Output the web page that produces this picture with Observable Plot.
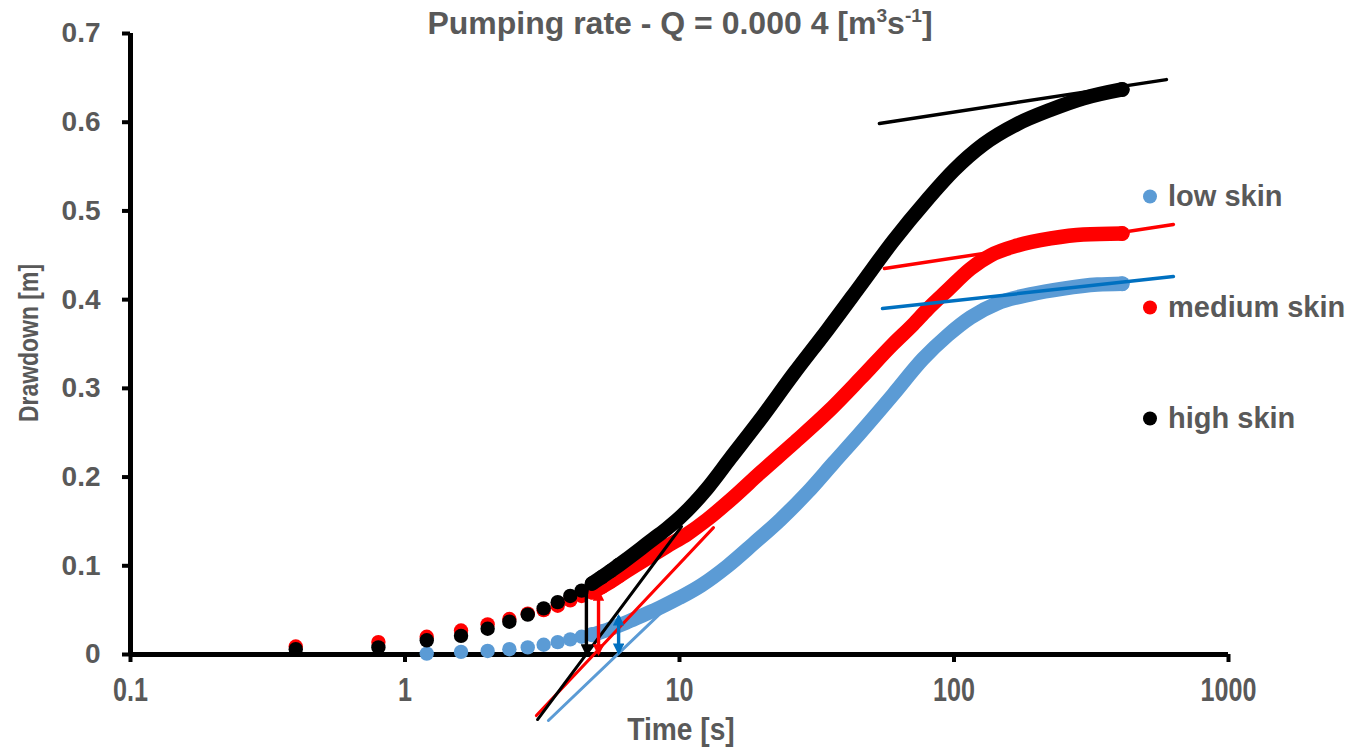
<!DOCTYPE html>
<html><head><meta charset="utf-8">
<script src="https://cdn.jsdelivr.net/npm/d3@7"></script>
<script src="https://cdn.jsdelivr.net/npm/@observablehq/plot@0.6"></script>
<style>
html,body{margin:0;background:#fff;overflow:hidden;}
#wrap{position:relative;width:1360px;height:749px;font-family:"Liberation Sans",Arial,sans-serif;}
#title{position:absolute;left:0;width:1360px;top:6px;text-align:center;font-weight:bold;font-size:32px;color:#595959;white-space:nowrap;line-height:1.1}
#title sup{font-size:0.6em;vertical-align:0.6em;line-height:0}
.leg{position:absolute;left:1143px;font-weight:bold;font-size:29px;color:#595959;white-space:nowrap;line-height:1;transform:translateY(-50%)}
.leg i{display:inline-block;width:14px;height:14px;border-radius:50%;margin-right:11px;vertical-align:2px}
g[aria-label="x-axis tick label"], g[aria-label="y-axis tick label"]{fill:#595959;font-weight:bold;font-family:"Liberation Sans",Arial,sans-serif;}
g[aria-label="y-axis tick label"]{font-size:28px;}
g[aria-label="x-axis tick label"]{font-size:34px;}
.axtitle{fill:#595959;font-weight:bold;font-family:"Liberation Sans",Arial,sans-serif;}
</style></head><body><div id="wrap"></div>
<script>
// ---- data ----
const xTicks = [0.1, 1, 10, 100, 1000];
const yTicks = [0, 0.1, 0.2, 0.3, 0.4, 0.5, 0.6, 0.7];
const seriesNames = ["low skin", "medium skin", "high skin"];
const seriesColors = ["#5B9BD5", "#FF0000", "#000000"];

// individually visible early readings (every 0.4 s)
const earlyTime   = [0.4, 0.8, 1.2, 1.6, 2.0, 2.4, 2.8, 3.2, 3.6, 4.0, 4.4, 4.8, 5.2, 5.6, 6.0];
const earlyLow    = [null, null, 0.001, 0.003, 0.004, 0.006, 0.008, 0.011, 0.014, 0.017, 0.020, 0.023, 0.026, 0.029, 0.033];
const earlyMedium = [0.009, 0.014, 0.020, 0.027, 0.034, 0.040, 0.046, 0.050, 0.055, 0.061, 0.066, 0.071, 0.076, 0.082, 0.088];
const earlyHigh   = [0.006, 0.008, 0.016, 0.021, 0.029, 0.037, 0.045, 0.052, 0.059, 0.066, 0.072, 0.080, 0.087, 0.094, 0.101];

// dense readings (overlapping markers) read along each band
const lowBandTime = [4.8, 5.6, 6.4, 7.2, 8.5, 10, 12, 15, 18.6, 23.3, 29.3, 36.4, 45.6, 60, 77, 95, 115, 144, 190, 250, 333, 410];
const lowBand     = [0.022, 0.029, 0.036, 0.043, 0.053, 0.064, 0.078, 0.100, 0.125, 0.152, 0.183, 0.216, 0.250, 0.293, 0.333, 0.360, 0.380, 0.396, 0.406, 0.4125, 0.417, 0.418];
const mediumBandTime = [4.8, 5.6, 6.5, 7.6, 9, 10.7, 12.6, 15.7, 19.7, 26, 34.6, 45.6, 60, 71, 80, 95, 115, 136, 170, 225, 296, 410];
const mediumBand     = [0.070, 0.082, 0.095, 0.108, 0.122, 0.136, 0.152, 0.177, 0.205, 0.238, 0.273, 0.311, 0.350, 0.372, 0.389, 0.411, 0.435, 0.450, 0.461, 0.469, 0.4735, 0.4746];
const highBandTime = [4.8, 5.6, 6.4, 7.2, 8, 9, 10, 12.6, 15.3, 19.7, 26, 34.6, 45.6, 60, 80, 100, 128, 170, 225, 296, 410];
const highBand     = [0.080, 0.094, 0.107, 0.119, 0.130, 0.142, 0.154, 0.187, 0.221, 0.265, 0.316, 0.366, 0.416, 0.466, 0.513, 0.546, 0.575, 0.598, 0.614, 0.627, 0.637];

// straight-line fits (early slope and late slope), [start, end]
const lowEarlyFitTime = [3.33, 10.0],   lowEarlyFit = [-0.0744, 0.067];
const mediumEarlyFitTime = [3.01, 13.3], mediumEarlyFit = [-0.0688, 0.143];
const highEarlyFitTime = [3.04, 10.17],  highEarlyFit = [-0.0733, 0.1443];
const lowLateFitTime = [54.9, 630],      lowLateFit = [0.390, 0.426];
const mediumLateFitTime = [55.8, 630],   mediumLateFit = [0.435, 0.4848];
const highLateFitTime = [53.5, 594],     highLateFit = [0.5986, 0.648];

// skin-loss arrows at the x-intercepts of the early fits
const arrowTime   = [6.0, 5.07, 4.58];
const arrowTop    = [0.043, 0.071, 0.069];
const arrowBottom = [0.002, 0.001, 0.001];
const arrowColors = ["#0070C0", "#FF0000", "#000000"];
const arrowDouble = [true, true, false];

// ---- build ----
const pairs = (ts, vs) => ts.map((t, i) => ({t, s: vs[i]})).filter(d => d.s != null);
const early = [earlyLow, earlyMedium, earlyHigh].map(v => pairs(earlyTime, v));
const bands = [pairs(lowBandTime, lowBand), pairs(mediumBandTime, mediumBand), pairs(highBandTime, highBand)];
const earlyFits = [pairs(lowEarlyFitTime, lowEarlyFit), pairs(mediumEarlyFitTime, mediumEarlyFit), pairs(highEarlyFitTime, highEarlyFit)];
const lateFits = [pairs(lowLateFitTime, lowLateFit), pairs(mediumLateFitTime, mediumLateFit), pairs(highLateFitTime, highLateFit)];
const earlyFitColors = ["#5B9BD5", "#FF0000", "#000000"];
const lateFitColors = ["#0070C0", "#FF0000", "#000000"];

const marks = [
  Plot.ruleY([0], {stroke: "#000", strokeWidth: 5}),
  Plot.ruleX([0.1], {stroke: "#000", strokeWidth: 5}),
  Plot.axisX({ticks: xTicks, tickFormat: d => String(d), tickSize: 8, tickPadding: 14, strokeWidth: 4, stroke: "#000", label: null}),
  Plot.axisY({ticks: yTicks, tickFormat: d => d === 0 ? "0" : d.toFixed(1), tickSize: 8, tickPadding: 22, strokeWidth: 4, stroke: "#000", label: null})
];
[0, 1, 2].forEach(i => {
  marks.push(Plot.line(bands[i], {x: "t", y: "s", stroke: seriesColors[i], strokeWidth: 14.5, curve: "monotone-x", strokeLinecap: "round", strokeLinejoin: "round"}));
  marks.push(Plot.dot(early[i], {x: "t", y: "s", r: 7.2, fill: seriesColors[i]}));
  marks.push(Plot.dot(bands[i].slice(-1), {x: "t", y: "s", r: 7.5, fill: seriesColors[i]}));
});
[0, 1, 2].forEach(i => {
  marks.push(Plot.line(earlyFits[i], {x: "t", y: "s", stroke: earlyFitColors[i], strokeWidth: 3}));
  marks.push(Plot.line(lateFits[i], {x: "t", y: "s", stroke: lateFitColors[i], strokeWidth: 3.5}));
});
[0, 1, 2].forEach(i => {
  marks.push(Plot.link([i], {x1: j => arrowTime[j], x2: j => arrowTime[j], y1: j => arrowTop[j], y2: j => arrowBottom[j],
    stroke: arrowColors[i], strokeWidth: 3.4}));
});

const svg = Plot.plot({
  width: 1360, height: 749,
  marginLeft: 130, marginRight: 132, marginTop: 33, marginBottom: 95,
  x: {type: "log", domain: [0.1, 1000]},
  y: {domain: [0, 0.7]},
  style: {background: "white", overflow: "visible"},
  marks
});

const wrap = document.getElementById("wrap");
wrap.appendChild(svg);

// arrow heads (filled, Excel style)
const root = d3.select(svg);
const defs = root.insert("defs", ":first-child");
arrowColors.forEach((c, i) => {
  defs.append("marker").attr("id", "head" + i).attr("viewBox", "0 0 10 10").attr("refX", 8).attr("refY", 5)
    .attr("markerWidth", 3.8).attr("markerHeight", 3.4).attr("orient", "auto-start-reverse")
    .append("path").attr("d", "M0,0L10,5L0,10Z").attr("fill", c);
});
root.selectAll('g[aria-label="link"]').each(function(_, i) {
  d3.select(this).selectAll("path").each(function() {
    this.setAttribute("marker-end", `url(#head${i})`);
    if (arrowDouble[i]) this.setAttribute("marker-start", `url(#head${i})`);
  });
});

// condensed x tick labels as in the original
root.selectAll('g[aria-label="x-axis tick label"] text').each(function() {
  const tr = this.getAttribute("transform") || "";
  this.setAttribute("transform", tr + " scale(0.74,1)");
});

// axis titles
root.append("text").attr("class", "axtitle").attr("transform", "translate(681,740) scale(0.88,1)").attr("text-anchor", "middle")
  .attr("font-size", 32).text("Time [s]");
root.append("text").attr("class", "axtitle").attr("transform", "translate(38,343) rotate(-90) scale(0.82,1)").attr("text-anchor", "middle")
  .attr("font-size", 28).text("Drawdown [m]");

// title
const title = document.createElement("div");
title.id = "title";
title.innerHTML = "Pumping rate - Q = 0.000 4 [m<sup>3</sup>s<sup>-1</sup>]";
wrap.appendChild(title);

// legend
const legendY = [196, 307, 418];
seriesNames.forEach((name, i) => {
  const d = document.createElement("div");
  d.className = "leg";
  d.style.top = legendY[i] + "px";
  d.innerHTML = `<i style="background:${seriesColors[i]}"></i>${name}`;
  wrap.appendChild(d);
});
</script></body></html>
